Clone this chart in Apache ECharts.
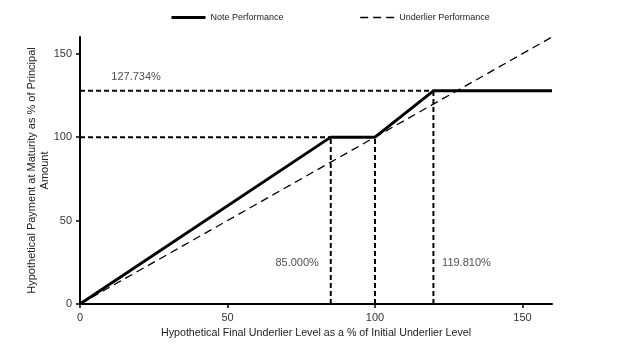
<!DOCTYPE html>
<html><head><meta charset="utf-8">
<script src="https://cdn.jsdelivr.net/npm/echarts@6/dist/echarts.min.js"></script>
<style>html,body{margin:0;padding:0;background:#fff}#c{width:624px;height:349px}</style>
</head><body><div id="c"></div>
<script>
var notePerformance = [[0,0],[85,100],[100,100],[119.81,127.734],[160,127.734]];
var underlierPerformance = [[0,0],[160,160]];
var refLines = [
  [[0,127.734],[119.81,127.734]],
  [[0,100],[85,100]],
  [[85,0],[85,100]],
  [[100,0],[100,100]],
  [[119.81,0],[119.81,127.734]]
];
var annotations = [
  {value:[19,136], text:'127.734%'},
  {value:[73.6,24.6], text:'85.000%'},
  {value:[131,24.6], text:'119.810%'}
];
var legendNames = ['Note Performance', 'Underlier Performance'];
var xTicks = [0,50,100,150];
var yTicks = [0,50,100,150];
var font = 'Liberation Sans, Arial, sans-serif';
var chart = echarts.init(document.getElementById('c'));
var series = [
  {name:legendNames[0], type:'line', data:notePerformance, symbol:'none', lineStyle:{color:'#000', width:3}, itemStyle:{color:'#000'}, z:5},
  {name:legendNames[1], type:'line', data:underlierPerformance, symbol:'none', lineStyle:{color:'#000', width:1.3, type:[8,5]}, itemStyle:{color:'#000'}, z:4}
];
refLines.forEach(function(seg, i){
  series.push({name:'ref'+i, type:'line', data:seg, symbol:'none', lineStyle:{color:'#000', width:2, type:[5,3]}, z:3, silent:true});
});
series.push({name:'labels', type:'scatter', data:annotations.map(function(a){return {value:a.value, text:a.text};}), symbolSize:0,
  label:{show:true, position:'inside', formatter:function(p){return p.data.text;}, color:'#222', fontSize:11, fontFamily:font}});
chart.setOption({
  animation:false,
  grid:{left:80, right:72, top:37, bottom:45},
  legend:{left:165, top:8, itemWidth:34, itemHeight:10, itemGap:76, selectedMode:false,
    data:legendNames, itemStyle:{opacity:0}, lineStyle:{width:'inherit'},
    textStyle:{fontSize:9, fontFamily:font, color:'#222'}},
  xAxis:{type:'value', min:0, max:160, interval:50,
    name:'Hypothetical Final Underlier Level as a % of Initial Underlier Level', nameLocation:'middle', nameGap:23,
    nameTextStyle:{fontSize:10.7, fontFamily:font, color:'#222'},
    axisLine:{lineStyle:{color:'#000', width:2}}, axisTick:{show:true, length:4, lineStyle:{color:'#000', width:1.5}},
    axisLabel:{fontSize:11, fontFamily:font, color:'#333', showMaxLabel:false, formatter:function(v){return xTicks.indexOf(v)>=0? v : '';}},
    splitLine:{show:false}},
  yAxis:{type:'value', min:0, max:160, interval:50,
    name:'Hypothetical Payment at Maturity as % of Principal\nAmount', nameLocation:'middle', nameGap:29, nameRotate:90, nameMoveOverlap:false,
    nameTextStyle:{fontSize:11, fontFamily:font, color:'#222', lineHeight:13},
    axisLine:{show:true, lineStyle:{color:'#000', width:2}}, axisTick:{show:true, length:4, lineStyle:{color:'#000', width:1.5}},
    axisLabel:{fontSize:11, fontFamily:font, color:'#333', showMaxLabel:false, formatter:function(v){return yTicks.indexOf(v)>=0? v : '';}},
    splitLine:{show:false}},
  series:series
});
</script></body></html>
